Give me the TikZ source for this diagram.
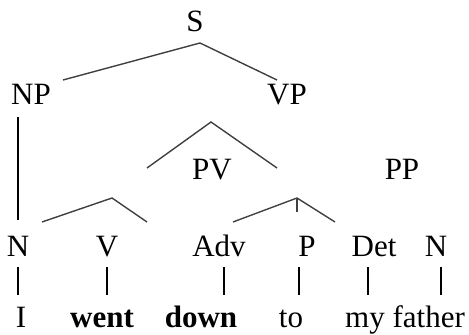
\documentclass[tikz,border=0pt]{standalone}
\usepackage{fontspec}
\setmainfont{Liberation Serif}
\begin{document}
\begin{tikzpicture}[x=1pt,y=1pt,
  lab/.style={inner sep=0pt,anchor=base,font=\fontsize{31}{36}\selectfont},
  wrd/.style={lab},
  branch/.style={draw=black!75,line width=1.4pt},
  stem/.style={draw=black,line width=2.6pt}]
\useasboundingbox (0,0) rectangle (469,335);
% labels
\node[lab] (S) at (195,303) {S};
\node[lab] (NP) at (31,230) {NP};
\node[lab] (VP) at (287,230) {VP};
\node[lab] (PV) at (212,155) {PV};
\node[lab] (PP) at (402,155) {PP};
\node[lab] (N1) at (18,78) {N};
\node[lab] (V) at (107,78) {V};
\node[lab] (Adv) at (219,78) {Adv};
\node[lab] (P) at (307,78) {P};
\node[lab] (Det) at (374,78) {Det};
\node[lab] (N2) at (436,78) {N};
% words
\node[wrd] (wI) at (21,8) {I};
\node[wrd] (went) at (102,8) {\textbf{went}};
\node[wrd] (down) at (201,8) {\textbf{down}};
\node[wrd] (to) at (291,8) {to};
\node[wrd] (myfather) at (405,8) {my father};
% branch coordinates
\coordinate (sA) at (200,292);
\coordinate (sL) at (63,255);
\coordinate (sR) at (277,255);
\coordinate (npT) at (18,218);
\coordinate (npB) at (18,115);
\coordinate (vA) at (211,213);
\coordinate (vL) at (147,167);
\coordinate (vR) at (277,167);
\coordinate (pvA) at (112,137);
\coordinate (pvL) at (42,113);
\coordinate (pvR) at (147,113);
\coordinate (ppA) at (297,137);
\coordinate (ppL) at (233,113);
\coordinate (ppR) at (335,113);
\coordinate (ppM) at (297,123);
\foreach \n/\x in {a/18,b/107,c/224,d/299,e/368,f/441}{
  \coordinate (t\n) at (\x,68);
  \coordinate (b\n) at (\x,40);
}
% connectors
\draw[branch] (sL) -- (sA) -- (sR);
\draw[stem] (npT) -- (npB);
\draw[branch] (vL) -- (vA) -- (vR);
\draw[branch] (pvL) -- (pvA) -- (pvR);
\draw[branch] (ppL) -- (ppA) -- (ppR);
\draw[branch] (ppA) -- (ppM);
\foreach \n in {a,b,c,d,e,f}{
  \draw[stem] (t\n) -- (b\n);
}
\end{tikzpicture}
\end{document}
